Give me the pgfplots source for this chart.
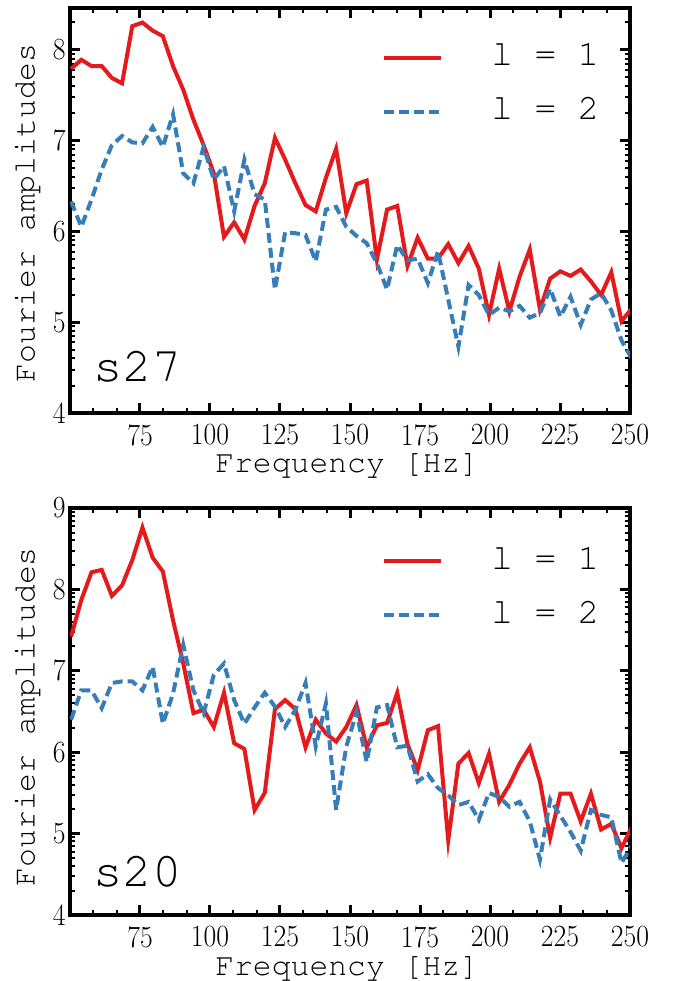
\documentclass[border=0pt]{standalone}
\usepackage[T1,TU]{fontenc}
\usepackage{graphicx}
\usepackage{pgfplots}
\usepackage{pgfplotstable}
\pgfplotsset{compat=1.18}
\definecolor{lred}{HTML}{E41A1C}
\definecolor{lblue}{HTML}{377EB8}
\newcommand\sx[1]{\scalebox{0.9}[1]{#1}}
\newcommand\cour{\fontencoding{T1}\fontfamily{pcr}\selectfont}

% s27: frequency, l=1, l=2
\pgfplotstableread{
x l1 l2
50.40 7.79 6.33
54.04 7.89 6.05
57.68 7.82 6.35
61.32 7.82 6.68
64.96 7.69 6.95
68.60 7.63 7.05
72.24 8.26 6.98
75.88 8.30 6.97
79.52 8.21 7.15
83.16 8.15 6.93
86.80 7.82 7.29
90.44 7.56 6.64
94.08 7.23 6.53
97.72 6.95 6.93
101.36 6.64 6.57
105.00 5.94 6.72
108.64 6.10 6.22
112.28 5.91 6.79
115.92 6.28 6.41
119.56 6.53 6.35
123.20 7.03 5.36
126.84 6.79 5.99
130.48 6.53 5.98
134.12 6.29 5.96
137.76 6.22 5.67
141.40 6.59 6.24
145.04 6.91 6.27
148.68 6.20 6.05
152.32 6.52 5.95
155.96 6.56 5.87
159.60 5.69 5.65
163.24 6.24 5.36
166.88 6.28 5.85
170.52 5.62 5.68
174.16 5.93 5.70
177.80 5.70 5.43
181.44 5.70 5.78
185.08 5.86 5.25
188.72 5.65 4.73
192.36 5.84 5.41
196.00 5.59 5.30
199.64 5.08 5.08
203.28 5.59 5.16
206.92 5.12 5.12
210.56 5.50 5.18
214.20 5.80 5.05
217.84 5.14 5.10
221.48 5.48 5.37
225.12 5.56 5.06
228.76 5.51 5.28
232.40 5.58 4.97
236.04 5.45 5.25
239.68 5.30 5.32
243.32 5.55 5.13
246.96 5.01 4.80
250.60 5.15 4.60
}\sA

% s20
\pgfplotstableread{
x l1 l2
50.40 7.42 6.40
54.04 7.87 6.76
57.68 8.21 6.76
61.32 8.24 6.54
64.96 7.92 6.85
68.60 8.05 6.87
72.24 8.36 6.87
75.88 8.76 6.76
79.52 8.39 7.05
83.16 8.22 6.35
86.80 7.62 6.72
90.44 7.09 7.32
94.08 6.48 6.76
97.72 6.52 6.48
101.36 6.31 6.95
105.00 6.73 7.09
108.64 6.11 6.64
112.28 6.04 6.35
115.92 5.29 6.55
119.56 5.50 6.73
123.20 6.53 6.56
126.84 6.64 6.31
130.48 6.53 6.52
134.12 6.06 6.85
137.76 6.40 6.07
141.40 6.23 6.60
145.04 6.13 5.29
148.68 6.31 6.07
152.32 6.58 6.49
155.96 6.06 5.88
159.60 6.33 6.55
163.24 6.36 6.58
166.88 6.73 6.06
170.52 6.10 6.08
174.16 5.78 5.64
177.80 6.27 5.73
181.44 6.32 5.56
185.08 4.92 5.47
188.72 5.86 5.35
192.36 5.99 5.39
196.00 5.62 5.17
199.64 5.98 5.50
203.28 5.39 5.45
206.92 5.60 5.33
210.56 5.86 5.39
214.20 6.06 5.15
217.84 5.64 4.68
221.48 4.95 5.42
225.12 5.49 5.22
228.76 5.49 5.02
232.40 5.15 4.79
236.04 5.49 5.29
239.68 5.05 5.23
243.32 5.12 5.20
246.96 4.82 4.64
250.60 5.08 4.85
}\sB

\tikzset{lab/.style={inner sep=0pt, font=\cour\fontsize{15.7}{17}\selectfont}}
\pgfplotsset{
  panel/.style={
    scale only axis, width=280pt,
    xmin=50, xmax=250, clip mode=individual,
    axis line style={line width=2pt},
    tick style={black},
    major tick length=5pt, minor tick length=2.5pt,
    every major tick/.append style={line width=1.5pt},
    every minor tick/.append style={line width=1pt},
    xtick={50,75,...,250}, minor x tick num=2,
    xticklabels={,\sx{75},\sx{100},\sx{125},\sx{150},\sx{175},\sx{200},\sx{225},\sx{250}},
    ticklabel style={font=\fontsize{15.4}{16}\selectfont},
    xticklabel style={inner sep=0pt, yshift=-5.5pt},
    yticklabel style={inner sep=0pt, xshift=-2pt},
    legend cell align=left,
    legend image code/.code={\draw[##1] (0pt,0pt) -- (28.5pt,0pt);},
    legend style={draw=none, fill=none, anchor=north west, inner sep=0pt,
      font=\cour\fontsize{18}{20}\selectfont, column sep=24pt, row sep=11pt,
      nodes={inner sep=0pt, text height=12pt, text depth=4pt}},
  },
  l1/.style={lred, line width=2pt},
  l2/.style={lblue, line width=2pt, dash pattern=on 5pt off 2.5pt},
}

\begin{document}
\begin{tikzpicture}
\path[use as bounding box] (0,0) rectangle (338pt,490.5pt);

\begin{axis}[panel, at={(35pt,284pt)}, anchor=south west, height=202.5pt,
  ymin=4, ymax=8.46, ytick={4,5,6,7,8},
  yticklabels={\sx{4},\sx{5},\sx{6},\sx{7},\sx{8}},
  minor ytick={4.301,4.477,4.602,4.699,4.778,4.845,4.903,4.954,
    5.301,5.477,5.602,5.699,5.778,5.845,5.903,5.954,
    6.301,6.477,6.602,6.699,6.778,6.845,6.903,6.954,
    7.301,7.477,7.602,7.699,7.778,7.845,7.903,7.954,8.301},
  legend style={at={(rel axis cs:0.557,0.918)}}]
\addplot[l1] table[x=x, y=l1] {\sA};
\addlegendentry{l~=~1}
\addplot[l2] table[x=x, y=l2] {\sA};
\addlegendentry{l~=~2}
\node[anchor=base west, inner sep=0pt, font=\cour\fontsize{24.5}{26}\selectfont] at (rel axis cs:0.041,0.077) {s27};
\node[lab, anchor=base] at ([yshift=-30pt]rel axis cs:0.495,0) {Frequency [Hz]};
\node[lab, rotate=90] at ([xshift=-21.5pt]rel axis cs:0,0.494) {Fourier amplitudes};
\end{axis}

\begin{axis}[panel, at={(35pt,33pt)}, anchor=south west, height=203.5pt,
  ymin=4, ymax=9, ytick={4,5,6,7,8,9},
  yticklabels={\sx{4},\sx{5},\sx{6},\sx{7},\sx{8},\sx{9}},
  minor ytick={4.301,4.477,4.602,4.699,4.778,4.845,4.903,4.954,
    5.301,5.477,5.602,5.699,5.778,5.845,5.903,5.954,
    6.301,6.477,6.602,6.699,6.778,6.845,6.903,6.954,
    7.301,7.477,7.602,7.699,7.778,7.845,7.903,7.954,
    8.301,8.477,8.602,8.699,8.778,8.845,8.903,8.954},
  legend style={at={(rel axis cs:0.557,0.91)}}]
\addplot[l1] table[x=x, y=l1] {\sB};
\addlegendentry{l~=~1}
\addplot[l2] table[x=x, y=l2] {\sB};
\addlegendentry{l~=~2}
\node[anchor=base west, inner sep=0pt, font=\cour\fontsize{24.5}{26}\selectfont] at (rel axis cs:0.041,0.069) {s20};
\node[lab, anchor=base] at ([yshift=-30pt]rel axis cs:0.495,0) {Frequency [Hz]};
\node[lab, rotate=90] at ([xshift=-21.5pt]rel axis cs:0,0.487) {Fourier amplitudes};
\end{axis}
\end{tikzpicture}
\end{document}
